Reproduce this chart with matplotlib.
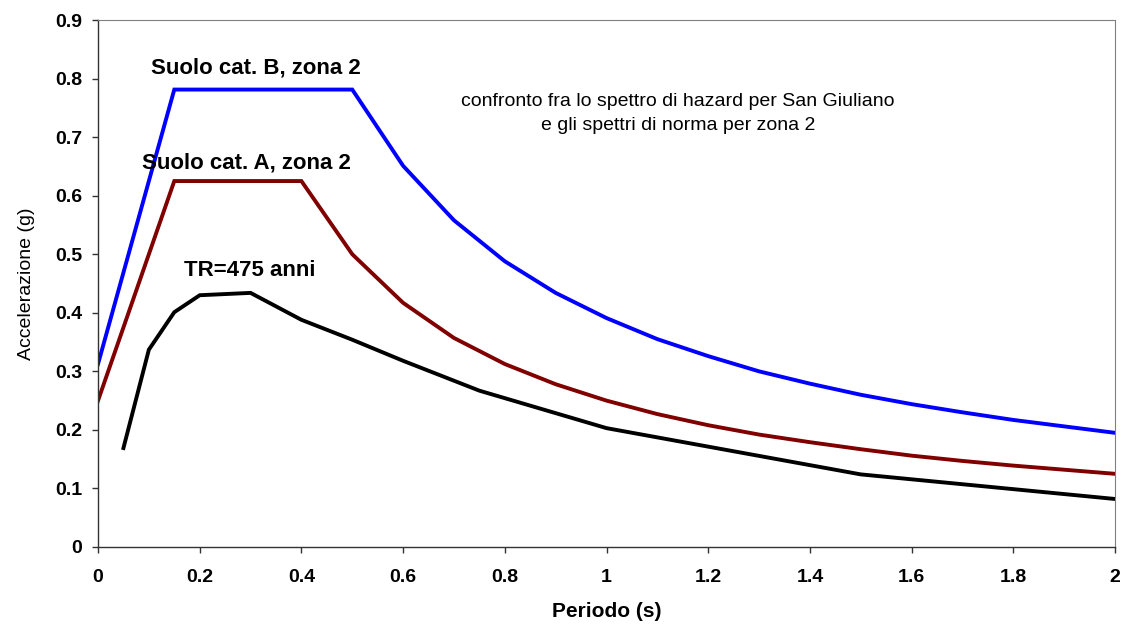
import matplotlib.pyplot as plt

plt.rcParams['font.family'] = ['Liberation Sans', 'DejaVu Sans']

# Normative spectrum, soil category B, zone 2
periodo_B = [0, 0.15, 0.5, 0.6, 0.7, 0.8, 0.9, 1.0, 1.1, 1.2, 1.3, 1.4,
             1.5, 1.6, 1.7, 1.8, 1.9, 2.0]
acc_B = [0.3125, 0.78125, 0.78125, 0.651, 0.558, 0.488, 0.434, 0.391, 0.355,
         0.326, 0.300, 0.279, 0.260, 0.244, 0.230, 0.217, 0.206, 0.195]

# Normative spectrum, soil category A, zone 2
periodo_A = [0, 0.15, 0.4, 0.5, 0.6, 0.7, 0.8, 0.9, 1.0, 1.1, 1.2, 1.3,
             1.4, 1.5, 1.6, 1.7, 1.8, 1.9, 2.0]
acc_A = [0.25, 0.625, 0.625, 0.5, 0.417, 0.357, 0.3125, 0.278, 0.25, 0.227,
         0.208, 0.192, 0.179, 0.167, 0.156, 0.147, 0.139, 0.132, 0.125]

# Hazard spectrum for San Giuliano, TR = 475 years
periodo_TR = [0.05, 0.1, 0.15, 0.2, 0.3, 0.4, 0.5, 0.6, 0.75, 1.0, 1.5, 2.0]
acc_TR = [0.169, 0.337, 0.401, 0.430, 0.434, 0.388, 0.354, 0.318, 0.267,
          0.203, 0.124, 0.082]

x_ticks = [0, 0.2, 0.4, 0.6, 0.8, 1.0, 1.2, 1.4, 1.6, 1.8, 2.0]
x_tick_labels = ['0', '0.2', '0.4', '0.6', '0.8', '1', '1.2', '1.4', '1.6', '1.8', '2']
y_ticks = [0, 0.1, 0.2, 0.3, 0.4, 0.5, 0.6, 0.7, 0.8, 0.9]
y_tick_labels = ['0', '0.1', '0.2', '0.3', '0.4', '0.5', '0.6', '0.7', '0.8', '0.9']

fig = plt.figure(figsize=(11.24, 6.26), dpi=100)
ax = fig.add_axes([0.0872, 0.1262, 0.9048, 0.8418])

ax.plot(periodo_B, acc_B, color='#0000FF', lw=2.8, solid_joinstyle='miter')
ax.plot(periodo_A, acc_A, color='#800000', lw=2.8, solid_joinstyle='miter')
ax.plot(periodo_TR, acc_TR, color='black', lw=2.8, solid_joinstyle='miter')

ax.set_xlim(0, 2)
ax.set_ylim(0, 0.9)
ax.set_xticks(x_ticks)
ax.set_xticklabels(x_tick_labels)
ax.set_yticks(y_ticks)
ax.set_yticklabels(y_tick_labels)
ax.tick_params(direction='out', length=4.5, width=1, labelsize=14,
               color='#333333')
ax.tick_params(axis='x', pad=11)
ax.tick_params(axis='y', pad=7)
for lab in ax.get_xticklabels() + ax.get_yticklabels():
    lab.set_fontweight('bold')

for side in ['top', 'right']:
    ax.spines[side].set_color('#808080')
    ax.spines[side].set_linewidth(0.8)
for side in ['left', 'bottom']:
    ax.spines[side].set_color('#333333')
    ax.spines[side].set_linewidth(1.0)

ax.set_xlabel('Periodo (s)', fontsize=15, fontweight='bold', labelpad=12)
ax.set_ylabel('Accelerazione (g)', fontsize=14, labelpad=14)

ax.text(0.311, 0.818, 'Suolo cat. B, zona 2', fontsize=16, fontweight='bold',
        ha='center', va='center')
ax.text(0.291, 0.656, 'Suolo cat. A, zona 2', fontsize=16, fontweight='bold',
        ha='center', va='center')
ax.text(0.299, 0.473, 'TR=475 anni', fontsize=16, fontweight='bold',
        ha='center', va='center')
ax.text(1.141, 0.740, 'confronto fra lo spettro di hazard per San Giuliano\n'
        'e gli spettri di norma per zona 2', fontsize=14, ha='center',
        va='center', linespacing=1.55)

fig.savefig('out.png', dpi=100)
